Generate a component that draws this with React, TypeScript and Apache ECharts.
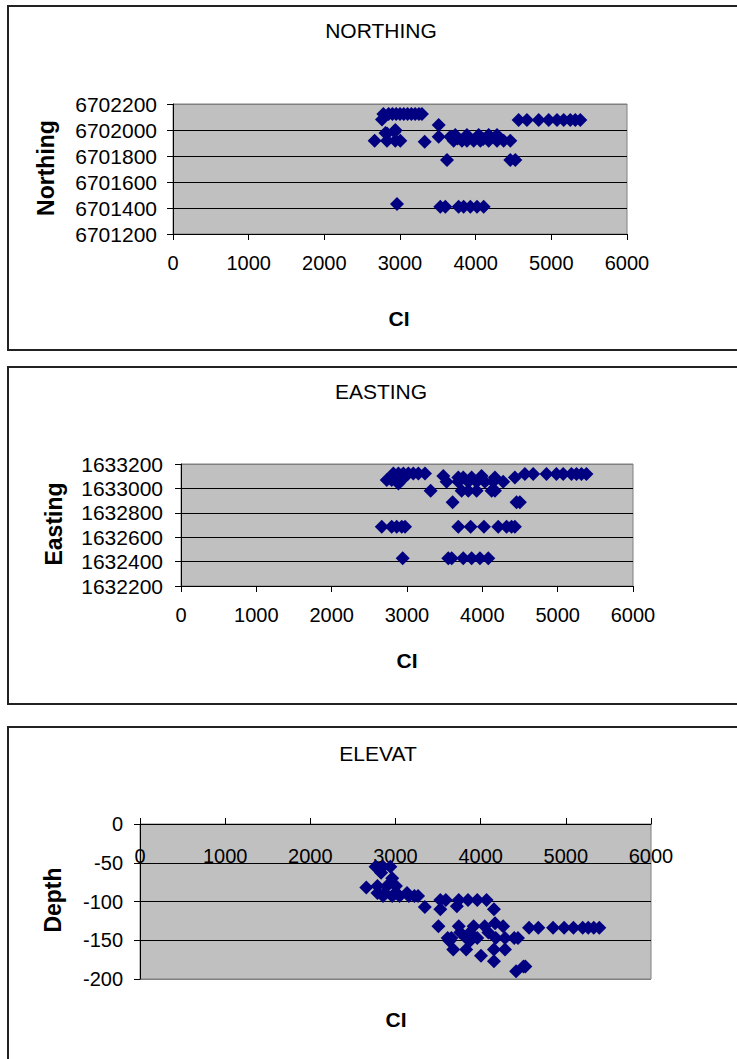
import React, { useEffect, useRef } from "react";
import * as echarts from "echarts";

// NORTHING vs CI
const northCI = [
  2780, 2850, 2900, 2950, 3000, 3050, 3100, 3150, 3200, 3250, 3290,
  2762, 4568, 4678, 4833, 4965, 5075, 5163, 5251, 5317, 5383,
  3511,
  2808, 2930, 2828, 2938,
  3511, 3665,
  2665, 2828, 2938, 3004, 3326, 3709, 3819, 3885, 3974, 4062, 4172, 4282, 4370, 4458,
  3730, 3885, 4040, 4172, 4282,
  3760, 3900, 4100,
  3621, 4458, 4524,
  2960,
  3533, 3599, 3775, 3841, 3930, 4018, 4106,
];
const northValues = [
  6702123, 6702123, 6702123, 6702123, 6702123, 6702123, 6702123, 6702123, 6702123, 6702123, 6702123,
  6702080, 6702077, 6702077, 6702077, 6702077, 6702077, 6702077, 6702077, 6702077, 6702077,
  6702038,
  6701977, 6701987, 6701974, 6702000,
  6701949, 6701949,
  6701918, 6701918, 6701918, 6701918, 6701910, 6701918, 6701918, 6701918, 6701918, 6701918, 6701918, 6701918, 6701918, 6701918,
  6701962, 6701962, 6701962, 6701962, 6701962,
  6701935, 6701940, 6701930,
  6701769, 6701769, 6701769,
  6701431,
  6701410, 6701410, 6701410, 6701410, 6701410, 6701410, 6701410,
];

// EASTING vs CI
const eastCI = [
  2819, 2886, 2952, 3018, 3084, 3151, 3239,
  4565, 4675, 4852, 4984, 5073, 5183, 5250, 5316, 5382,
  2731, 2797, 2863, 2930,
  2886,
  3482, 3681, 3747, 3858, 3990, 4167, 4432,
  3526, 3681, 3814, 3924, 4034, 4145, 4277,
  3314, 3725, 3814, 3924, 4123, 4167,
  3606, 4454, 4498,
  2665, 2797, 2863, 2930, 2974, 3681, 3845, 4021, 4211, 4322, 4388, 4432,
  2943, 3548, 3593, 3747, 3858, 3968, 4079,
];
const eastValues = [
  1633123, 1633123, 1633123, 1633123, 1633123, 1633123, 1633123,
  1633118, 1633118, 1633118, 1633118, 1633118, 1633118, 1633118, 1633118, 1633118,
  1633069, 1633069, 1633069, 1633069,
  1633041,
  1633102, 1633090, 1633090, 1633090, 1633102, 1633090, 1633090,
  1633055, 1633055, 1633055, 1633055, 1633055, 1633055, 1633055,
  1632981, 1632981, 1632981, 1632981, 1632981, 1632981,
  1632886, 1632886, 1632886,
  1632686, 1632686, 1632686, 1632686, 1632686, 1632686, 1632686, 1632686, 1632686, 1632686, 1632686, 1632686,
  1632427, 1632427, 1632427, 1632427, 1632427, 1632427, 1632427,
];

// ELEVAT (depth) vs CI
const elevCI = [
  2766, 2853, 2940,
  2831, 2961,
  2657, 2788, 2900, 3005,
  2788, 2874, 3005, 3135,
  2853, 2961, 3048, 3157, 3222, 3265,
  3344,
  3526, 3591, 3743, 3851, 3960, 4069,
  3526, 4156, 3721,
  4169,
  3504, 3743, 3917, 4047, 4264,
  4568, 4677, 4850, 4980, 5089, 5198, 5263, 5328, 5393,
  3760, 3873, 4091,
  3613, 3656, 3830, 3960, 4177, 4286, 4394, 4438,
  3634, 3873,
  3678, 3830, 4156, 4286,
  4004, 4156,
  4503, 4525, 4416,
];
const elevValues = [
  -55, -55, -55,
  -63, -70,
  -82, -80, -80, -80,
  -89, -89, -89, -89,
  -93, -93, -93, -93, -93, -93,
  -107,
  -98, -98, -98, -98, -98, -98,
  -110, -110, -106,
  -128,
  -132, -132, -132, -132, -132,
  -134, -134, -134, -134, -134, -134, -134, -134, -134,
  -140, -140, -140,
  -147, -147, -147, -147, -147, -147, -147, -147,
  -151, -151,
  -162, -162, -162, -162,
  -170, -177,
  -184, -184, -190,
];

const ciTicks = { min: 0, max: 6000, interval: 1000 };
const FONT = "'Liberation Sans', Arial, sans-serif";
const NAVY = "#000080";

const pairs = (xs: number[], ys: number[]) => xs.map((x, i) => [x, ys[i]]);

export default function App() {
  const ref = useRef<HTMLDivElement>(null);

  useEffect(() => {
    if (!ref.current) return;
    const chart = echarts.init(ref.current, undefined, { renderer: "svg" });

    const plain = (v: number) => String(v);
    const label = { color: "#000", fontFamily: FONT, fontSize: 20, formatter: plain };
    const axisLine = { show: true, onZero: true, lineStyle: { color: "#000", width: 1 } };
    const axisTick = { show: true, length: 6, lineStyle: { color: "#000" } };

    const yAxisBase = (min: number, max: number, interval: number, margin: number, grid: number, colors: string[], size = 20) => ({
      type: "value",
      gridIndex: grid,
      min,
      max,
      interval,
      axisLine,
      axisTick,
      axisLabel: { ...label, fontSize: size, margin },
      splitLine: { show: true, lineStyle: { color: colors, width: 1 } },
    });

    const xAxisBase = (grid: number, extra: any = {}) => ({
      type: "value",
      gridIndex: grid,
      ...ciTicks,
      axisLine,
      axisTick,
      axisLabel: { ...label, margin: 19 },
      splitLine: { show: false },
      ...extra,
    });

    const gridBase = { show: true, backgroundColor: "#c0c0c0", borderColor: "#808080", borderWidth: 1, containLabel: false };

    const titleText = (text: string, x: number, y: number) => ({
      text,
      left: x,
      top: y,
      textAlign: "center",
      padding: 0,
      textStyle: { color: "#000", fontFamily: FONT, fontSize: 21, fontWeight: "normal" },
    });

    const axisName = (text: string, x: number, y: number, vertical: boolean) => ({
      type: "text",
      x,
      y,
      rotation: vertical ? Math.PI / 2 : 0,
      style: {
        text,
        fill: "#000",
        font: `bold ${vertical ? 23 : 21}px ${FONT}`,
        align: "center",
        verticalAlign: "middle",
      },
    });

    const frame = (y: number, h: number) => ({
      type: "rect",
      shape: { x: 8, y, width: 800, height: h },
      style: { fill: "transparent", stroke: "#222", lineWidth: 2 },
      z: -1,
    });

    const scatter = (xi: number, xs: number[], ys: number[]) => ({
      type: "scatter",
      xAxisIndex: xi,
      yAxisIndex: xi,
      symbol: "diamond",
      symbolSize: [14, 14],
      itemStyle: { color: NAVY, opacity: 1 },
      data: pairs(xs, ys),
    });

    chart.setOption({
      animation: false,
      backgroundColor: "#fff",
      title: [
        titleText("NORTHING", 381, 20),
        titleText("EASTING", 381, 381),
        titleText("ELEVAT", 378, 743),
      ],
      grid: [
        { ...gridBase, left: 173, top: 104, width: 454, height: 130 },
        { ...gridBase, left: 181, top: 464, width: 452, height: 122 },
        { ...gridBase, left: 140, top: 824, width: 511, height: 155 },
      ],
      xAxis: [
        xAxisBase(0),
        xAxisBase(1),
        xAxisBase(2, {
          position: "top",
          axisLabel: { ...label, margin: 22, inside: true },
        }),
      ],
      yAxis: [
        yAxisBase(6701200, 6702200, 200, 16, 0, ["#000", "#000", "#000", "#000", "#000", "#808080"], 21),
        yAxisBase(1632200, 1633200, 200, 18, 1, ["#000", "#000", "#000", "#000", "#000", "#808080"], 21),
        yAxisBase(-200, 0, 50, 17, 2, ["#808080", "#000", "#000", "#000", "#000"]),
      ],
      graphic: [
        frame(6, 344),
        frame(367, 337),
        frame(727, 400),
        axisName("Northing", 46, 168, true),
        axisName("CI", 399, 318, false),
        axisName("Easting", 54, 524, true),
        axisName("CI", 407, 660, false),
        axisName("Depth", 53, 900, true),
        axisName("CI", 396, 1019, false),
      ],
      series: [
        scatter(0, northCI, northValues),
        scatter(1, eastCI, eastValues),
        scatter(2, elevCI, elevValues),
      ],
    });

    return () => chart.dispose();
  }, []);

  return (
    <div
      ref={ref}
      style={{ position: "absolute", left: 0, top: 0, width: 737, height: 1059, overflow: "hidden" }}
    />
  );
}
